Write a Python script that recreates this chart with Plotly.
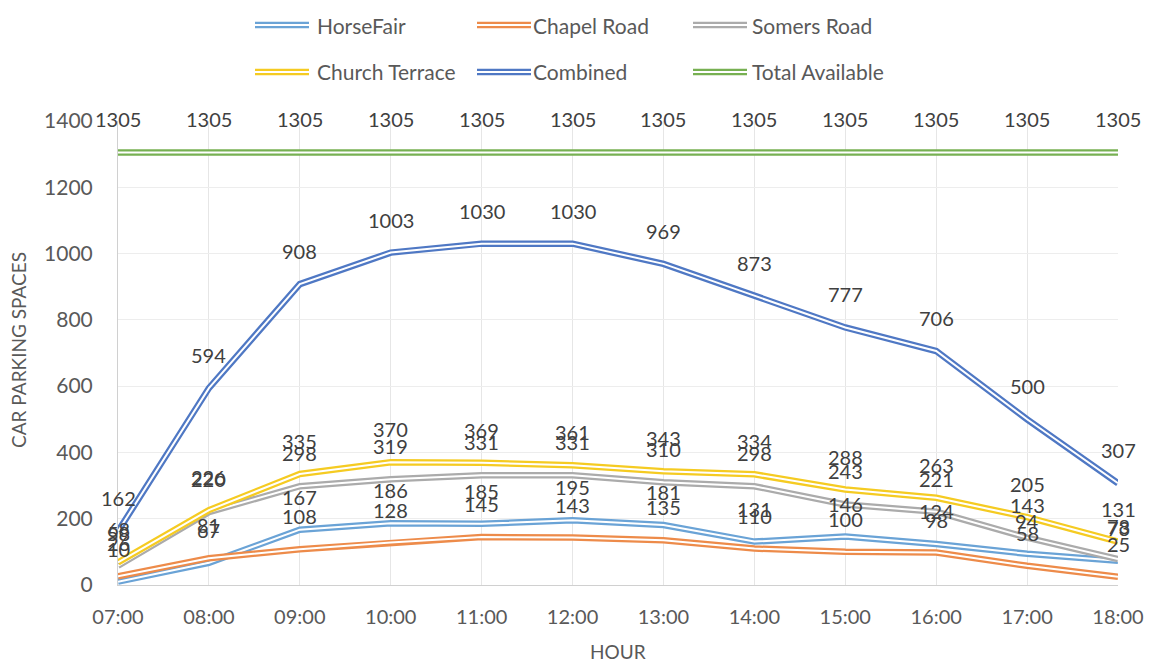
import plotly.graph_objects as go

# hourly counts of occupied spaces per car park
hours = ['07:00', '08:00', '09:00', '10:00', '11:00', '12:00',
         '13:00', '14:00', '15:00', '16:00', '17:00', '18:00']
horse_fair = [10, 67, 167, 186, 185, 195, 181, 131, 146, 124, 94, 73]
chapel_road = [26, 81, 108, 128, 145, 143, 135, 110, 100, 98, 58, 25]
somers_road = [58, 220, 298, 319, 331, 331, 310, 298, 243, 221, 143, 78]
church_terrace = [68, 226, 335, 370, 369, 361, 343, 334, 288, 263, 205, 131]
combined = [162, 594, 908, 1003, 1030, 1030, 969, 873, 777, 706, 500, 307]
total_available = [1305] * 12

series = [
    ('HorseFair', horse_fair, '#6AA3D6'),
    ('Chapel Road', chapel_road, '#ED8B4A'),
    ('Somers Road', somers_road, '#ABABAB'),
    ('Church Terrace', church_terrace, '#F5CB22'),
    ('Combined', combined, '#4F78C4'),
    ('Total Available', total_available, '#77B052'),
]

FONT = 'Lato'
TXT = '#595959'

# the page body has an 8px margin, so the figure starts at (8, 8) in the window
OFF = 8
W, H = 1156 - OFF, 665 - OFF
# plot area in window pixels
L, R, T, B = 118, 1118, 121, 585


def px_x(p):
    return (p - L) / (R - L)


def px_y(p):
    return (B - p) / (B - T)


fig = go.Figure()
annotations = []

for name, vals, col in series:
    # Excel style "double" line: thick colour with a thin white core
    fig.add_trace(go.Scatter(x=hours, y=vals, mode='lines', name=name,
                             line=dict(color=col, width=6.5), showlegend=False,
                             hoverinfo='skip'))
    fig.add_trace(go.Scatter(x=hours, y=vals, mode='lines', name=name,
                             line=dict(color='white', width=2), showlegend=False))
    # data labels above each point
    for h, v in zip(hours, vals):
        annotations.append(dict(x=h, y=v, xref='x', yref='y', text=str(v),
                                showarrow=False, yshift=33,
                                font=dict(family=FONT, size=20, color='#404040')))

# legend drawn by hand so the symbols can be double lines too
shapes = []
sym_x = [255, 477, 693]
txt_x = [315, 531, 750]
row_y = [25, 72]
for i, (name, vals, col) in enumerate(series):
    c, r = i % 3, i // 3
    for w, lc in ((6.5, col), (2, 'white')):
        shapes.append(dict(type='line', xref='paper', yref='paper',
                           x0=px_x(sym_x[c]), x1=px_x(sym_x[c] + 54),
                           y0=px_y(row_y[r]), y1=px_y(row_y[r]),
                           line=dict(color=lc, width=w)))
    annotations.append(dict(x=px_x(txt_x[c]), y=px_y(row_y[r]), xref='paper', yref='paper',
                            text=name, showarrow=False, xanchor='left', yanchor='middle',
                            font=dict(family=FONT, size=21, color=TXT)))

# axis titles
annotations.append(dict(x=px_x(18), y=px_y(350), xref='paper', yref='paper',
                        text='CAR PARKING SPACES', textangle=-90, showarrow=False,
                        xanchor='center', yanchor='middle',
                        font=dict(family=FONT, size=19, color=TXT)))
annotations.append(dict(x=px_x(618), y=px_y(651), xref='paper', yref='paper',
                        text='HOUR', showarrow=False, xanchor='center', yanchor='middle',
                        font=dict(family=FONT, size=19, color=TXT)))

fig.update_layout(
    width=W, height=H,
    margin=dict(l=L - OFF, r=W + OFF - R, t=T - OFF, b=H + OFF - B),
    paper_bgcolor='white', plot_bgcolor='white',
    showlegend=False,
    shapes=shapes,
    annotations=annotations,
    xaxis=dict(type='category', range=[0, 11], showgrid=True, gridcolor='#E6E6E6',
               showline=True, linecolor='#D0D0D0', zeroline=False,
               tickfont=dict(family=FONT, size=20, color=TXT), ticks='',
               ticklabelstandoff=14),
    yaxis=dict(range=[0, 1400], dtick=200, showgrid=True, gridcolor='#EDEDED',
               showline=True, linecolor='#D0D0D0', zeroline=False,
               tickfont=dict(family=FONT, size=21, color=TXT), ticks='',
               ticklabelstandoff=20),
)

fig.write_html('out.html')
